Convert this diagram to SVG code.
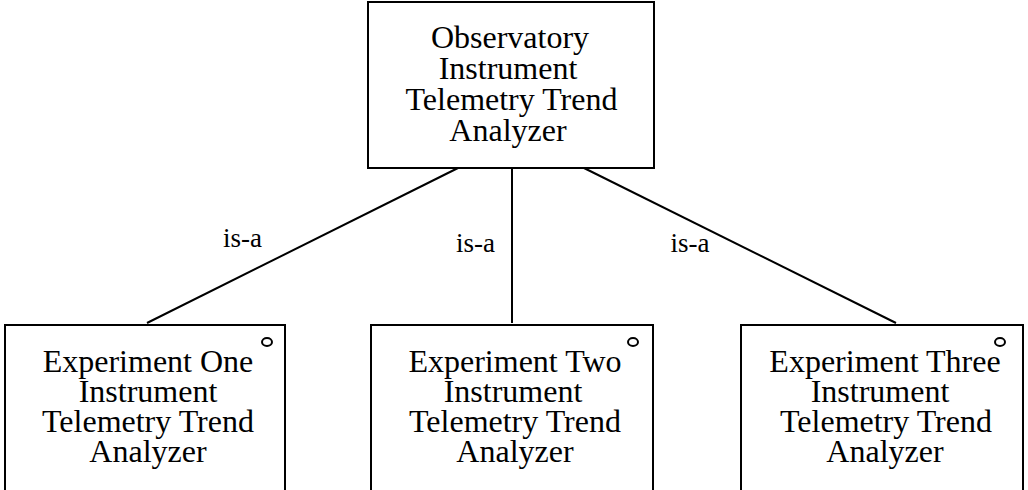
<svg xmlns="http://www.w3.org/2000/svg" width="1028" height="490" viewBox="0 0 1028 490">
<style>
.box{fill:#fff;stroke:#000;stroke-width:2}
.t{font-family:"Liberation Serif","Times New Roman",serif;font-size:32px;fill:#000;text-anchor:middle}
.l{font-family:"Liberation Serif","Times New Roman",serif;font-size:27px;fill:#000;text-anchor:middle}
.c{stroke:#000;stroke-width:2;fill:none}
.o{fill:#fff;stroke:#000;stroke-width:2}
</style>
<g id="connectors">
<line class="c" x1="458" y1="168" x2="147" y2="323"/>
<line class="c" x1="512" y1="168" x2="512" y2="323"/>
<line class="c" x1="584" y1="168" x2="896" y2="323"/>
<text class="l" x="242.5" y="247">is-a</text>
<text class="l" x="475.5" y="252">is-a</text>
<text class="l" x="690" y="252">is-a</text>
</g>
<g id="observatory">
<rect class="box" x="368" y="2" width="286" height="166"/>
<text class="t" x="510" y="48">Observatory</text>
<text class="t" x="508" y="79">Instrument</text>
<text class="t" x="511.5" y="110">Telemetry Trend</text>
<text class="t" x="508" y="141">Analyzer</text>
</g>
<g id="exp1">
<rect class="box" x="5" y="325" width="280" height="180"/>
<ellipse class="o" cx="267" cy="342" rx="5" ry="4"/>
<text class="t" x="148" y="372">Experiment One</text>
<text class="t" x="148" y="402">Instrument</text>
<text class="t" x="148" y="432">Telemetry Trend</text>
<text class="t" x="148" y="462">Analyzer</text>
</g>
<g id="exp2">
<rect class="box" x="371" y="325" width="282" height="180"/>
<ellipse class="o" cx="633" cy="342" rx="5" ry="4"/>
<text class="t" x="515" y="372">Experiment Two</text>
<text class="t" x="513" y="402">Instrument</text>
<text class="t" x="515" y="432">Telemetry Trend</text>
<text class="t" x="515" y="462">Analyzer</text>
</g>
<g id="exp3">
<rect class="box" x="741" y="325" width="282" height="180"/>
<ellipse class="o" cx="1000" cy="342" rx="5" ry="4"/>
<text class="t" x="885" y="372">Experiment Three</text>
<text class="t" x="880" y="402">Instrument</text>
<text class="t" x="886" y="432">Telemetry Trend</text>
<text class="t" x="885" y="462">Analyzer</text>
</g>
</svg>
